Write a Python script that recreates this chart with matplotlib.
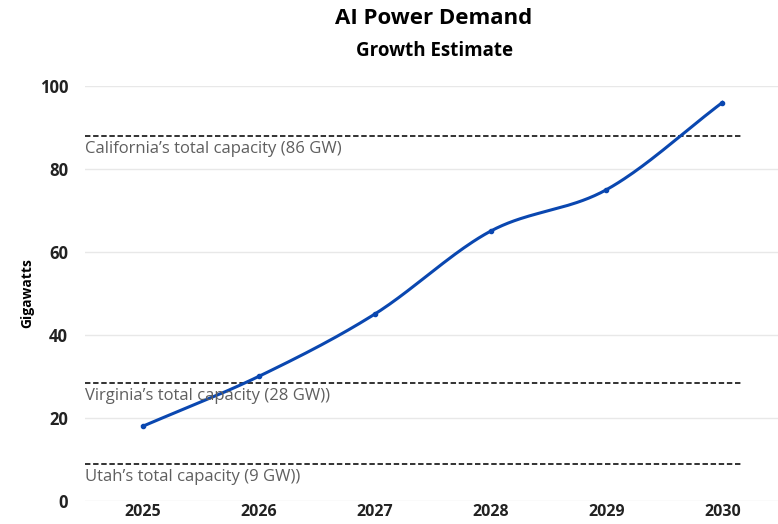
import numpy as np
import matplotlib
matplotlib.use("Agg")
from matplotlib import pyplot as plt

# chart data
years = ["2025", "2026", "2027", "2028", "2029", "2030"]
demand_gw = [18, 30, 45, 65, 75, 96]
ref_values = [88, 28.3, 9]
ref_labels = [
    "California\u2019s total capacity (86 GW)",
    "Virginia\u2019s total capacity (28 GW))",
    "Utah\u2019s total capacity (9 GW))",
]
y_ticks = [0, 20, 40, 60, 80, 100]


def catmull_rom(x, y, steps=40):
    """Smooth curve through the points (drawing only)."""
    x = np.asarray(x, float)
    y = np.asarray(y, float)
    px = np.concatenate([[2 * x[0] - x[1]], x, [2 * x[-1] - x[-2]]])
    py = np.concatenate([[2 * y[0] - y[1]], y, [2 * y[-1] - y[-2]]])
    out_x, out_y = [], []
    t = np.linspace(0, 1, steps)
    for i in range(1, len(px) - 2):
        for p, out in ((px, out_x), (py, out_y)):
            p0, p1, p2, p3 = p[i - 1], p[i], p[i + 1], p[i + 2]
            out.extend(0.5 * ((2 * p1) + (-p0 + p2) * t
                              + (2 * p0 - 5 * p1 + 4 * p2 - p3) * t ** 2
                              + (-p0 + 3 * p1 - 3 * p2 + p3) * t ** 3))
    return np.array(out_x), np.array(out_y)


plt.rcParams["font.family"] = ["Open Sans", "DejaVu Sans"]

fig = plt.figure(figsize=(7.78, 5.24), dpi=100)
ax = fig.add_axes([0.109, 0.044, 0.891, 0.792])

xpos = np.arange(len(years))
sx, sy = catmull_rom(xpos, demand_gw)
ax.plot(sx, sy, color="#0a47b0", lw=2.2, zorder=3)
ax.plot(xpos, demand_gw, "o", color="#0a47b0", ms=3, zorder=4)

for val, lab in zip(ref_values, ref_labels):
    ax.hlines(val, -0.5, 5.17, colors="#222222", linestyles=(0, (3, 1.5)), lw=1.3, zorder=2)
    ax.text(-0.5, val - 1.2, lab, ha="left", va="top", fontsize=12, color="#5f5f5f")

ax.set_xlim(-0.5, 5.48)
ax.set_ylim(0, 100)
ax.set_xticks(xpos)
ax.set_xticklabels(years, fontsize=11.5, fontweight="bold", color="#222222")
ax.set_yticks(y_ticks)
ax.set_yticklabels([str(v) for v in y_ticks], fontsize=12, fontweight="bold", color="#222222")
ax.grid(axis="y", color="#e8e8e8", lw=1)
ax.set_axisbelow(True)
for s in ax.spines.values():
    s.set_visible(False)
ax.tick_params(length=0, pad=12)
ax.tick_params(axis="x", pad=2)
ax.set_ylabel("Gigawatts", fontsize=10, fontweight="bold", labelpad=4)

fig.text(0.558, 0.964, "AI Power Demand", ha="center", va="center", fontsize=16, fontweight="bold")
fig.text(0.558, 0.903, "Growth Estimate", ha="center", va="center", fontsize=13.5, fontweight="bold")

fig.savefig("out.png", dpi=100)
